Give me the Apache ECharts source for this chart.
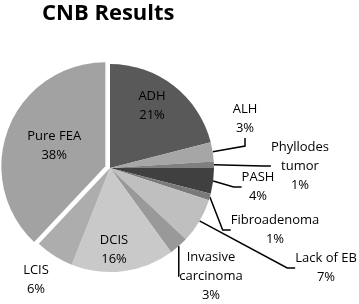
<!DOCTYPE html>
<html lang="en">
<head>
    <meta charset="UTF-8">
    <title>CNB Results</title>
    <style>
        html, body { margin: 0; padding: 0; background: #fff; }
        .chart { width: 359px; height: 304px; }
    </style>
</head>
<body>
    <div class="chart"></div>
</body>
<script src="https://cdn.jsdelivr.net/npm/echarts@6/dist/echarts.min.js"></script>
<script>
    // data (clockwise from 12 o'clock)
    var categories = ['ADH', 'ALH', 'Phyllodes\ntumor', 'PASH', 'Fibroadenoma', 'Lack of EB', 'Invasive\ncarcinoma', 'DCIS', 'LCIS', 'Pure FEA'];
    var values = [21, 3, 1, 4, 1, 7, 3, 16, 6, 38];
    var colors = ['#595959', '#a6a6a6', '#7f7f7f', '#404040', '#7a7a7a', '#bfbfbf', '#999999', '#c9c9c9', '#adadad', '#a2a2a2'];

    // where each label sits (text centre)
    var labelPos = [
        [152, 106], [245, 119], [300, 166], [258, 187], [275, 230],
        [326, 268], [211, 276], [114, 250], [36, 280], [41, 152]
    ];
    var insideIdx = [0, 7, 9];
    var noLine = [0, 7, 8, 9];

    var mChart = echarts.init(document.querySelector('.chart'), null, { renderer: 'canvas' });

    var option = {
        animation: false,
        title: {
            text: 'CNB Results',
            left: 37,
            top: -2,
            textStyle: {
                fontFamily: 'Open Sans',
                fontWeight: 'bold',
                fontSize: 22,
                color: '#000'
            }
        },
        series: [
            {
                type: 'pie',
                center: [110, 168],
                radius: 104,
                startAngle: 90,
                clockwise: true,
                selectedMode: 'single',
                selectedOffset: 5,
                avoidLabelOverlap: false,
                data: categories.map(function (name, i) {
                    return {
                        name: name,
                        value: values[i],
                        selected: i === 9,
                        itemStyle: { color: colors[i] },
                        label: { position: insideIdx.indexOf(i) >= 0 ? 'inside' : 'outside' },
                        labelLine: { show: noLine.indexOf(i) < 0 }
                    };
                }),
                label: {
                    show: true,
                    formatter: function (p) {
                        return p.name + '\n' + Math.round(p.percent) + '%';
                    },
                    fontFamily: 'Open Sans',
                    fontSize: 13,
                    lineHeight: 19,
                    color: '#000',
                    align: 'center'
                },
                labelLine: {
                    lineStyle: { color: '#000', width: 1.5 },
                    length: 10,
                    length2: 8
                },
                labelLayout: function (p) {
                    var pos = labelPos[p.dataIndex];
                    return {
                        x: pos[0],
                        y: pos[1],
                        align: 'center',
                        verticalAlign: 'middle'
                    };
                },
                emphasis: { disabled: true }
            }
        ]
    };

    mChart.setOption(option);
</script>
</html>
